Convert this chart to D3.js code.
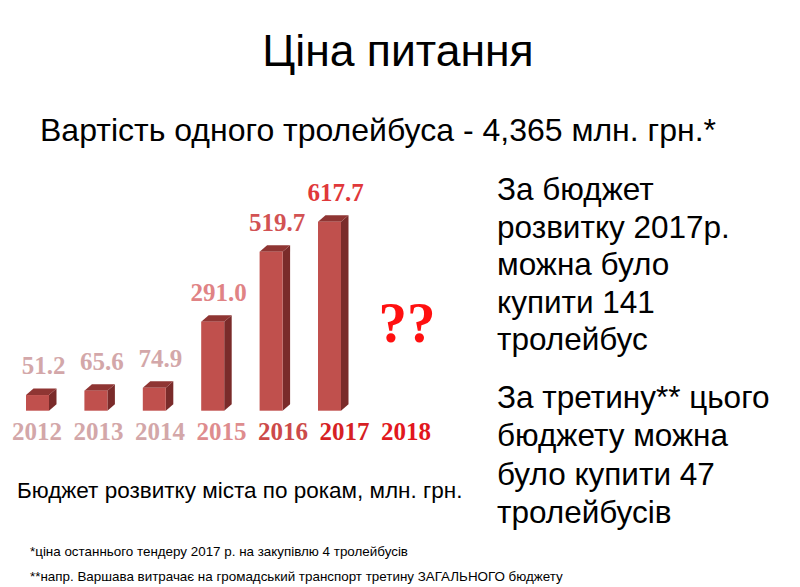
<!DOCTYPE html>
<meta charset="utf-8">
<style>

body {
  margin: 0;
  background: #fff;
}

svg {
  display: block;
  font-family: "Liberation Sans", Arial, sans-serif;
}

.num {
  font-family: "Liberation Serif", "Times New Roman", serif;
  font-weight: bold;
}

</style>
<svg width="800" height="587"></svg>
<script src="https://cdn.jsdelivr.net/npm/d3@7"></script>
<script>

var years = ["2012", "2013", "2014", "2015", "2016", "2017", "2018"],
    budget = [51.2, 65.6, 74.9, 291.0, 519.7, 617.7],
    valueLabels = ["51.2", "65.6", "74.9", "291.0", "519.7", "617.7"],
    yearColors = ["#d3a7a9", "#d3a7a9", "#d3a7a9", "#de8c8e", "#cc4a4a", "#d61f24", "#e2171d"],
    valueColors = ["#d3a7a9", "#d3a7a9", "#d3a7a9", "#e08385", "#d25253", "#e0383a"];

var rightText1 = ["За бюджет", "розвитку 2017р.", "можна було", "купити 141", "тролейбус"],
    rightText2 = ["За третину** цього", "бюджету можна", "було купити 47", "тролейбусів"],
    footnotes = [
      "*ціна останнього тендеру 2017 р. на закупівлю 4 тролейбусів",
      "**напр. Варшава витрачає на громадський транспорт третину ЗАГАЛЬНОГО бюджету"
    ];

</script>
<script>

var svg = d3.select("svg");

svg.append("text")
    .attr("x", 398)
    .attr("y", 66)
    .attr("text-anchor", "middle")
    .attr("font-size", 44.5)
    .text("Ціна питання");

svg.append("text")
    .attr("x", 40)
    .attr("y", 141)
    .attr("font-size", 32)
    .attr("textLength", 676)
    .text("Вартість одного тролейбуса - 4,365 млн. грн.*");

// bars
var barW = 23, dx = 7.5, dy = 6.5;

var x = d3.scalePoint()
    .domain(years)
    .range([37.5, 37.5 + 58.4 * 6]);

var xLabel = d3.scalePoint()
    .domain(years)
    .range([37, 406]);

var y = d3.scaleLinear()
    .domain([0, 617.7])
    .range([410.7, 221.7]);

var data = budget.map(function(v, i) { return {year: years[i], value: v, label: valueLabels[i], color: valueColors[i]}; });

var bar = svg.append("g")
  .selectAll("g")
  .data(data)
  .enter().append("g");

// side face
bar.append("path")
    .attr("fill", "#7a2b2a")
    .attr("d", function(d) {
      var x1 = x(d.year) + barW / 2, y0 = y(0), y1 = y(d.value);
      return "M" + x1 + "," + y1 + "L" + (x1 + dx) + "," + (y1 - dy) +
        "L" + (x1 + dx) + "," + (y0 - dy) + "L" + x1 + "," + y0 + "Z";
    });

// top face
bar.append("path")
    .attr("fill", "#8f3533")
    .attr("d", function(d) {
      var x0 = x(d.year) - barW / 2, x1 = x0 + barW, y1 = y(d.value);
      return "M" + x0 + "," + y1 + "L" + (x0 + dx) + "," + (y1 - dy) +
        "L" + (x1 + dx) + "," + (y1 - dy) + "L" + x1 + "," + y1 + "Z";
    });

// front face
bar.append("rect")
    .attr("fill", "#c0504d")
    .attr("x", function(d) { return x(d.year) - barW / 2; })
    .attr("y", function(d) { return y(d.value); })
    .attr("width", barW)
    .attr("height", function(d) { return y(0) - y(d.value); });

bar.append("text")
    .attr("class", "num")
    .attr("x", function(d) { return x(d.year) + 6; })
    .attr("y", function(d) { return y(d.value) - 21; })
    .attr("text-anchor", "middle")
    .attr("font-size", 25)
    .attr("fill", function(d) { return d.color; })
    .text(function(d) { return d.label; });

svg.append("g")
  .selectAll("text")
  .data(years)
  .enter().append("text")
    .attr("class", "num")
    .attr("x", function(d) { return xLabel(d); })
    .attr("y", 440)
    .attr("text-anchor", "middle")
    .attr("font-size", 25)
    .attr("fill", function(d, i) { return yearColors[i]; })
    .text(function(d) { return d; });

svg.append("text")
    .attr("class", "num")
    .attr("x", xLabel("2018") + 1)
    .attr("y", 342)
    .attr("text-anchor", "middle")
    .attr("font-size", 57)
    .attr("fill", "#ff1010")
    .text("??");

svg.append("text")
    .attr("x", 17)
    .attr("y", 498)
    .attr("font-size", 22.5)
    .text("Бюджет розвитку міста по рокам, млн. грн.");

// right-hand text
svg.append("g")
  .selectAll("text")
  .data(rightText1)
  .enter().append("text")
    .attr("x", 497)
    .attr("y", function(d, i) { return 200 + i * 37.6; })
    .attr("font-size", 31.5)
    .text(function(d) { return d; });

svg.append("g")
  .selectAll("text")
  .data(rightText2)
  .enter().append("text")
    .attr("x", 497)
    .attr("y", function(d, i) { return 408 + i * 38.3; })
    .attr("font-size", 31.5)
    .text(function(d) { return d; });

svg.append("g")
  .selectAll("text")
  .data(footnotes)
  .enter().append("text")
    .attr("x", 30)
    .attr("y", function(d, i) { return 556 + i * 25; })
    .attr("font-size", 13.4)
    .text(function(d) { return d; });

</script>
